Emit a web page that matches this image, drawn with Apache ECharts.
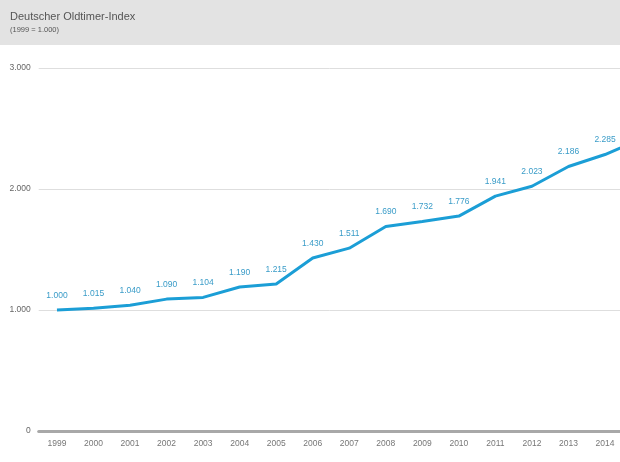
<!DOCTYPE html>
<html>
<head>
<meta charset="utf-8">
<script src="https://cdn.jsdelivr.net/npm/echarts@6/dist/echarts.min.js"></script>
<style>html,body{margin:0;padding:0;background:#fff}#c{width:620px;height:462px}</style>
</head>
<body>
<div id="c"></div>
<script>
const years = [1999,2000,2001,2002,2003,2004,2005,2006,2007,2008,2009,2010,2011,2012,2013,2014,2015];
const indexValues = [1000,1015,1040,1090,1104,1190,1215,1430,1511,1690,1732,1776,1941,2023,2186,2285,2415];
const yTicks = [0,1000,2000,3000];

function de(v){ return String(v).replace(/\B(?=(\d{3})+(?!\d))/g,'.'); }

const seriesData = years.map((y,i)=>[y, indexValues[i]]);
const visibleYears = years.filter(y => y <= 2014);

const chart = echarts.init(document.getElementById('c'));
chart.setOption({
  animation:false,
  backgroundColor:'#fff',
  graphic:[
    {type:'rect',shape:{x:0,y:0,width:620,height:45},style:{fill:'#e3e3e3'},z:-1},
    {type:'text',left:10,top:11,style:{text:'Deutscher Oldtimer-Index',fill:'#555',font:'11px "Liberation Sans", Arial, sans-serif'}},
    {type:'text',left:10,top:26,style:{text:'(1999 = 1.000)',fill:'#555',font:'7.5px "Liberation Sans", Arial, sans-serif'}}
  ],
  grid:{left:38.7,right:0,top:68,bottom:31,containLabel:false},
  xAxis:{
    type:'value',min:1998.5,max:2014.41,
    splitLine:{show:false},
    axisLine:{show:true,onZero:false,lineStyle:{color:'#a8a8a8',width:3}},
    axisTick:{show:false},
    axisLabel:{customValues:visibleYears,color:'#777',fontSize:8.5,margin:8,formatter:v=>String(v),fontFamily:'"Liberation Sans", Arial, sans-serif'}
  },
  yAxis:{
    type:'value',min:yTicks[0],max:yTicks[yTicks.length-1],interval:1000,
    axisLine:{show:false},axisTick:{show:false},
    splitLine:{lineStyle:{color:'#dedede',width:1}},
    axisLabel:{color:'#666',fontSize:8.5,margin:8,formatter:v=>de(v),fontFamily:'"Liberation Sans", Arial, sans-serif'}
  },
  series:[{
    type:'line',data:seriesData,clip:true,
    lineStyle:{color:'#1b9ed6',width:3},
    symbol:'circle',symbolSize:2,showSymbol:true,
    itemStyle:{color:'transparent'},
    label:{show:true,position:'top',distance:9,color:'#3a9cc8',fontSize:8.5,formatter:p=>de(p.value[1]),fontFamily:'"Liberation Sans", Arial, sans-serif'}
  }]
});
</script>
</body>
</html>
